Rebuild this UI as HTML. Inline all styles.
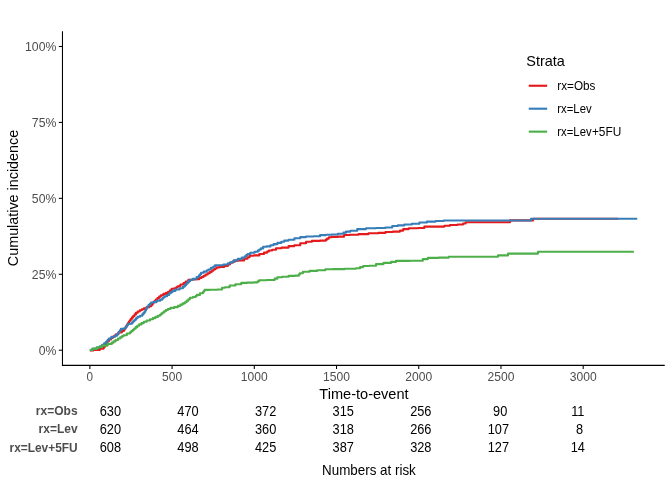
<!DOCTYPE html>
<html><head><meta charset="utf-8"><title>Cumulative incidence</title>
<style>
html,body{margin:0;padding:0;background:#fff;}
body{width:672px;height:480px;overflow:hidden;font-family:"Liberation Sans",sans-serif;}
svg{display:block;will-change:transform;}
text{font-family:"Liberation Sans",sans-serif;}
.tk{font-size:11.73px;fill:#4d4d4d;}
.ttl{font-size:14.67px;fill:#000;}
.lg{font-size:11.73px;fill:#000;}
.rl{font-size:11.73px;font-weight:bold;fill:#4d4d4d;}
.num{font-size:12.8px;fill:#000;}
.cap{font-size:13.33px;fill:#000;}
</style></head><body>
<svg width="672" height="480" viewBox="0 0 672 480">
<rect x="0" y="0" width="672" height="480" fill="#ffffff"/>
<polyline fill="none" stroke="#E41A1C" stroke-width="2.13" stroke-linejoin="round" stroke-linecap="butt" points="89.85,350.40 93.32,350.40 93.32,349.90 96.80,349.90 99.75,349.90 99.75,348.60 102.70,348.60 103.72,348.60 103.72,346.80 104.75,346.80 105.16,346.80 105.16,345.35 105.97,345.35 105.97,343.90 106.78,343.90 106.78,342.45 107.59,342.45 107.59,341.00 108.00,341.00 109.00,341.00 109.00,339.50 111.00,339.50 111.00,338.00 112.00,338.00 112.80,338.00 112.80,336.73 114.40,336.73 114.40,335.47 116.00,335.47 116.00,334.20 116.80,334.20 118.40,334.20 118.40,332.50 120.00,332.50 121.75,332.50 121.75,331.00 123.50,331.00 123.92,331.00 123.92,329.67 124.75,329.67 124.75,328.33 125.58,328.33 125.58,327.00 126.00,327.00 126.42,327.00 126.42,325.50 127.28,325.50 127.28,324.00 127.70,324.00 128.12,324.00 128.12,322.77 128.95,322.77 128.95,321.53 129.78,321.53 129.78,320.30 130.20,320.30 130.80,320.30 130.80,318.87 132.00,318.87 132.00,317.43 133.20,317.43 133.20,316.00 133.80,316.00 134.53,316.00 134.53,314.40 135.97,314.40 135.97,312.80 136.70,312.80 137.72,312.80 137.72,311.55 139.78,311.55 139.78,310.30 140.80,310.30 141.85,310.30 141.85,309.25 143.95,309.25 143.95,308.20 145.00,308.20 146.43,308.20 146.43,307.20 149.27,307.20 149.27,306.20 150.70,306.20 151.24,306.20 151.24,304.90 152.31,304.90 152.31,303.60 153.39,303.60 153.39,302.30 154.46,302.30 154.46,301.00 155.00,301.00 155.82,301.00 155.82,299.50 157.48,299.50 157.48,298.00 158.30,298.00 159.15,298.00 159.15,296.60 160.85,296.60 160.85,295.20 161.70,295.20 163.35,295.20 163.35,293.90 165.00,293.90 166.05,293.90 166.05,292.85 168.15,292.85 168.15,291.80 169.20,291.80 170.02,291.80 170.02,290.25 171.68,290.25 171.68,288.70 172.50,288.70 174.15,288.70 174.15,288.25 175.80,288.25 176.43,288.25 176.43,287.23 177.68,287.23 177.68,286.20 178.30,286.20 180.40,286.20 180.40,284.50 182.50,284.50 183.55,284.50 183.55,283.05 185.65,283.05 185.65,281.60 186.70,281.60 188.35,281.60 188.35,279.90 190.00,279.90 192.10,279.90 192.10,279.50 194.20,279.50 196.25,279.50 196.25,279.10 198.30,279.10 199.35,279.10 199.35,278.05 201.45,278.05 201.45,277.00 202.50,277.00 203.55,277.00 203.55,275.75 205.65,275.75 205.65,274.50 206.70,274.50 207.72,274.50 207.72,273.25 209.78,273.25 209.78,272.00 210.80,272.00 211.65,272.00 211.65,270.75 213.35,270.75 213.35,269.50 214.20,269.50 215.02,269.50 215.02,268.45 216.68,268.45 216.68,267.40 217.50,267.40 219.60,267.40 219.60,267.00 221.70,267.00 224.20,267.00 224.20,265.90 226.70,265.90 227.85,265.90 227.85,264.32 230.15,264.32 230.15,262.75 231.30,262.75 232.48,262.75 232.48,261.68 234.82,261.68 234.82,260.60 236.00,260.60 238.90,260.60 238.90,260.40 241.80,260.40 244.15,260.40 244.15,258.70 246.50,258.70 247.53,258.70 247.53,257.23 249.57,257.23 249.57,255.75 250.60,255.75 253.80,255.75 253.80,255.40 257.00,255.40 259.35,255.40 259.35,254.00 261.70,254.00 264.00,254.00 264.00,252.60 266.30,252.60 267.18,252.60 267.18,251.55 268.93,251.55 268.93,250.50 269.80,250.50 272.15,250.50 272.15,249.70 274.50,249.70 276.00,249.70 276.00,248.20 277.50,248.20 281.60,248.20 281.60,247.60 285.70,247.60 288.60,247.60 288.60,246.10 291.50,246.10 294.40,246.10 294.40,245.25 297.30,245.25 300.25,245.25 300.25,243.30 303.20,243.30 306.10,243.30 306.10,241.75 309.00,241.75 311.90,241.75 311.90,240.90 314.80,240.90 320.05,240.90 320.05,240.60 325.30,240.60 325.90,240.60 325.90,239.60 327.10,239.60 327.10,238.60 327.70,238.60 328.85,238.60 328.85,237.30 330.00,237.30 331.75,237.30 331.75,236.90 333.50,236.90 337.88,236.90 337.88,236.60 342.25,236.60 344.12,236.60 344.12,235.00 346.00,235.00 349.75,235.00 349.75,234.75 353.50,234.75 358.50,234.75 358.50,234.10 363.50,234.10 368.50,234.10 368.50,233.25 373.50,233.25 378.50,233.25 378.50,232.90 383.50,232.90 385.38,232.90 385.38,232.00 387.25,232.00 392.88,232.00 392.88,231.60 398.50,231.60 400.00,231.60 400.00,230.60 401.50,230.60 403.25,230.60 403.25,229.10 405.00,229.10 408.75,229.10 408.75,228.25 412.50,228.25 418.12,228.25 418.12,228.00 423.75,228.00 424.38,228.00 424.38,226.60 425.00,226.60 442.50,226.60 444.38,226.60 444.38,225.75 446.25,225.75 450.00,225.75 450.00,225.00 453.75,225.00 457.50,225.00 457.50,224.50 461.25,224.50 463.12,224.50 463.12,223.50 465.00,223.50 465.62,223.50 465.62,222.20 466.25,222.20 510.00,222.20 510.00,220.40 533.00,220.40 533.00,218.70 618.10,218.70"/>
<polyline fill="none" stroke="#377EB8" stroke-width="2.13" stroke-linejoin="round" stroke-linecap="butt" points="89.85,350.00 92.92,350.00 92.92,348.50 96.00,348.50 97.25,348.50 97.25,347.45 99.75,347.45 99.75,346.40 101.00,346.40 102.05,346.40 102.05,344.90 104.15,344.90 104.15,343.40 105.20,343.40 105.71,343.40 105.71,342.17 106.74,342.17 106.74,340.95 107.76,340.95 107.76,339.73 108.79,339.73 108.79,338.50 109.30,338.50 111.40,338.50 111.40,336.80 113.50,336.80 115.15,336.80 115.15,335.60 116.80,335.60 117.22,335.60 117.22,334.33 118.05,334.33 118.05,333.07 118.88,333.07 118.88,331.80 119.30,331.80 119.83,331.80 119.83,330.35 120.88,330.35 120.88,328.90 121.40,328.90 123.30,328.90 123.30,328.50 125.20,328.50 125.61,328.50 125.61,327.35 126.44,327.35 126.44,326.20 127.26,326.20 127.26,325.05 128.09,325.05 128.09,323.90 128.50,323.90 129.95,323.90 129.95,323.70 131.40,323.70 132.03,323.70 132.03,322.37 133.30,322.37 133.30,321.03 134.57,321.03 134.57,319.70 135.20,319.70 135.97,319.70 135.97,318.20 137.53,318.20 137.53,316.70 138.30,316.70 140.00,316.70 140.00,315.80 141.70,315.80 142.25,315.80 142.25,314.43 143.35,314.43 143.35,313.07 144.45,313.07 144.45,311.70 145.00,311.70 145.36,311.70 145.36,310.34 146.09,310.34 146.09,308.98 146.81,308.98 146.81,307.61 147.54,307.61 147.54,306.25 147.90,306.25 148.53,306.25 148.53,305.00 149.80,305.00 149.80,303.75 151.07,303.75 151.07,302.50 151.70,302.50 153.35,302.50 153.35,302.10 155.00,302.10 156.65,302.10 156.65,300.80 158.30,300.80 160.20,300.80 160.20,299.60 162.10,299.60 162.40,299.60 162.40,298.55 163.00,298.55 163.00,297.50 163.30,297.50 164.55,297.50 164.55,296.25 167.05,296.25 167.05,295.00 168.30,295.00 169.15,295.00 169.15,293.25 170.00,293.25 170.82,293.25 170.82,292.07 172.48,292.07 172.48,290.90 173.30,290.90 175.40,290.90 175.40,289.50 177.50,289.50 179.60,289.50 179.60,288.25 181.70,288.25 182.95,288.25 182.95,286.60 184.20,286.60 184.82,286.60 184.82,285.15 186.07,285.15 186.07,283.70 186.70,283.70 187.38,283.70 187.38,282.43 188.75,282.43 188.75,281.17 190.12,281.17 190.12,279.90 190.80,279.90 192.90,279.90 192.90,278.70 195.00,278.70 196.65,278.70 196.65,277.00 198.30,277.00 198.87,277.00 198.87,275.60 200.00,275.60 200.00,274.20 201.13,274.20 201.13,272.80 201.70,272.80 203.75,272.80 203.75,271.60 205.80,271.60 206.65,271.60 206.65,270.55 208.35,270.55 208.35,269.50 209.20,269.50 210.85,269.50 210.85,267.80 212.50,267.80 213.32,267.80 213.32,266.55 214.98,266.55 214.98,265.30 215.80,265.30 217.90,265.30 217.90,265.20 220.00,265.20 223.35,265.20 223.35,264.50 226.70,264.50 227.85,264.50 227.85,263.35 230.15,263.35 230.15,262.20 231.30,262.20 233.65,262.20 233.65,260.40 236.00,260.40 237.75,260.40 237.75,258.90 239.50,258.90 241.85,258.90 241.85,257.50 244.20,257.50 244.88,257.50 244.88,256.33 246.22,256.33 246.22,255.17 247.57,255.17 247.57,254.00 248.25,254.00 250.28,254.00 250.28,252.80 252.30,252.80 254.65,252.80 254.65,251.70 257.00,251.70 257.78,251.70 257.78,250.60 259.35,250.60 259.35,249.50 260.92,249.50 260.92,248.40 261.70,248.40 263.15,248.40 263.15,246.80 264.60,246.80 266.65,246.80 266.65,246.40 268.70,246.40 270.45,246.40 270.45,245.25 272.20,245.25 273.65,245.25 273.65,244.10 275.10,244.10 277.45,244.10 277.45,242.90 279.80,242.90 281.27,242.90 281.27,241.75 284.23,241.75 284.23,240.60 285.70,240.60 288.60,240.60 288.60,239.80 291.50,239.80 294.40,239.80 294.40,238.25 297.30,238.25 300.25,238.25 300.25,237.10 303.20,237.10 306.10,237.10 306.10,236.50 309.00,236.50 313.65,236.50 313.65,236.30 318.30,236.30 320.05,236.30 320.05,235.10 321.80,235.10 325.90,235.10 325.90,234.75 330.00,234.75 331.75,234.75 331.75,234.50 333.50,234.50 337.88,234.50 337.88,233.75 342.25,233.75 343.50,233.75 343.50,232.68 346.00,232.68 346.00,231.60 347.25,231.60 350.38,231.60 350.38,230.75 353.50,230.75 357.25,230.75 357.25,229.10 361.00,229.10 366.00,229.10 366.00,228.25 371.00,228.25 376.00,228.25 376.00,228.00 381.00,228.00 385.38,228.00 385.38,227.50 389.75,227.50 392.25,227.50 392.25,226.00 394.75,226.00 397.88,226.00 397.88,225.40 401.00,225.40 404.25,225.40 404.25,224.50 407.50,224.50 411.88,224.50 411.88,223.75 416.25,223.75 419.38,223.75 419.38,222.50 422.50,222.50 426.88,222.50 426.88,221.60 431.25,221.60 435.62,221.60 435.62,221.00 440.00,221.00 443.75,221.00 443.75,220.50 447.50,220.50 531.00,220.50 531.00,218.70 637.25,218.70"/>
<polyline fill="none" stroke="#4DAF4A" stroke-width="2.13" stroke-linejoin="round" stroke-linecap="butt" points="89.85,350.10 92.07,350.10 92.07,348.90 94.30,348.90 96.80,348.90 96.80,347.25 99.30,347.25 101.80,347.25 101.80,345.60 104.30,345.60 107.65,345.60 107.65,343.90 111.00,343.90 111.83,343.90 111.83,342.65 113.47,342.65 113.47,341.40 114.30,341.40 115.55,341.40 115.55,339.95 118.05,339.95 118.05,338.50 119.30,338.50 120.13,338.50 120.13,337.40 121.80,337.40 121.80,336.30 123.47,336.30 123.47,335.20 124.30,335.20 126.80,335.20 126.80,333.50 129.30,333.50 130.00,333.50 130.00,332.27 131.40,332.27 131.40,331.03 132.80,331.03 132.80,329.80 133.50,329.80 134.25,329.80 134.25,328.47 135.75,328.47 135.75,327.13 137.25,327.13 137.25,325.80 138.00,325.80 139.17,325.80 139.17,324.43 141.50,324.43 141.50,323.07 143.83,323.07 143.83,321.70 145.00,321.70 146.68,321.70 146.68,320.45 150.02,320.45 150.02,319.20 151.70,319.20 152.95,319.20 152.95,318.07 155.45,318.07 155.45,316.93 157.95,316.93 157.95,315.80 159.20,315.80 159.88,315.80 159.88,314.70 161.25,314.70 161.25,313.60 162.62,313.60 162.62,312.50 163.30,312.50 164.15,312.50 164.15,311.25 165.85,311.25 165.85,310.00 166.70,310.00 167.95,310.00 167.95,308.95 170.45,308.95 170.45,307.90 171.70,307.90 174.20,307.90 174.20,307.10 176.70,307.10 177.95,307.10 177.95,305.85 180.45,305.85 180.45,304.60 181.70,304.60 182.72,304.60 182.72,303.40 184.78,303.40 184.78,302.20 185.80,302.20 186.63,302.20 186.63,300.73 188.30,300.73 188.30,299.27 189.97,299.27 189.97,297.80 190.80,297.80 192.90,297.80 192.90,297.00 195.00,297.00 195.62,297.00 195.62,295.95 196.88,295.95 196.88,294.90 197.50,294.90 200.00,294.90 200.00,293.25 202.50,293.25 202.92,293.25 202.92,292.13 203.75,292.13 203.75,291.02 204.58,291.02 204.58,289.90 205.00,289.90 209.60,289.90 209.60,289.75 214.20,289.75 217.50,289.75 217.50,289.50 220.80,289.50 222.05,289.50 222.05,287.80 223.30,287.80 225.00,287.80 225.00,287.25 226.70,287.25 229.60,287.25 229.60,285.50 232.50,285.50 235.40,285.50 235.40,284.30 238.30,284.30 241.25,284.30 241.25,282.90 244.20,282.90 247.10,282.90 247.10,282.60 250.00,282.60 253.50,282.60 253.50,282.35 257.00,282.35 257.73,282.35 257.73,281.30 259.17,281.30 259.17,280.25 259.90,280.25 266.60,280.25 266.60,280.00 273.30,280.00 274.65,280.00 274.65,278.65 277.35,278.65 277.35,277.30 278.70,277.30 282.20,277.30 282.20,276.75 285.70,276.75 288.60,276.75 288.60,275.90 291.50,275.90 295.00,275.90 295.00,275.60 298.50,275.60 298.94,275.60 298.94,274.43 299.81,274.43 299.81,273.25 300.25,273.25 302.88,273.25 302.88,271.70 305.50,271.70 309.60,271.70 309.60,270.90 313.70,270.90 317.20,270.90 317.20,270.30 320.70,270.30 325.35,270.30 325.35,269.20 330.00,269.20 333.00,269.20 333.00,269.10 336.00,269.10 344.75,269.10 344.75,268.75 353.50,268.75 356.00,268.75 356.00,268.25 358.50,268.25 360.06,268.25 360.06,267.12 363.19,267.12 363.19,266.00 364.75,266.00 369.12,266.00 369.12,265.75 373.50,265.75 376.00,265.75 376.00,264.10 378.50,264.10 383.50,264.10 383.50,262.90 388.50,262.90 391.00,262.90 391.00,261.90 396.00,261.90 396.00,260.90 398.50,260.90 409.88,260.90 409.88,260.75 421.25,260.75 422.82,260.75 422.82,259.10 424.40,259.10 427.82,259.10 427.82,257.90 431.25,257.90 438.75,257.90 438.75,257.60 446.25,257.60 448.75,257.60 448.75,256.80 451.25,256.80 498.00,256.80 498.00,255.40 508.00,255.40 508.00,253.60 538.00,253.60 538.00,251.80 633.90,251.80"/>
<g stroke="#000" stroke-width="1.07" fill="none">
<line x1="62.47" y1="31.25" x2="62.47" y2="365.93"/>
<line x1="61.94" y1="365.4" x2="664.75" y2="365.4"/>
<line x1="58.8" y1="350.20" x2="62.47" y2="350.20"/>
<line x1="58.8" y1="274.27" x2="62.47" y2="274.27"/>
<line x1="58.8" y1="198.35" x2="62.47" y2="198.35"/>
<line x1="58.8" y1="122.43" x2="62.47" y2="122.43"/>
<line x1="58.8" y1="46.50" x2="62.47" y2="46.50"/>
<line x1="89.85" y1="365.4" x2="89.85" y2="369.0"/>
<line x1="172.07" y1="365.4" x2="172.07" y2="369.0"/>
<line x1="254.30" y1="365.4" x2="254.30" y2="369.0"/>
<line x1="336.52" y1="365.4" x2="336.52" y2="369.0"/>
<line x1="418.75" y1="365.4" x2="418.75" y2="369.0"/>
<line x1="500.98" y1="365.4" x2="500.98" y2="369.0"/>
<line x1="583.20" y1="365.4" x2="583.20" y2="369.0"/>
</g>
<text class="tk" transform="translate(56.40,354.55) scale(1,1.05)" text-anchor="end" textLength="17.72" lengthAdjust="spacingAndGlyphs">0%</text>
<text class="tk" transform="translate(56.40,278.62) scale(1,1.05)" text-anchor="end" textLength="24.54" lengthAdjust="spacingAndGlyphs">25%</text>
<text class="tk" transform="translate(56.40,202.70) scale(1,1.05)" text-anchor="end" textLength="24.54" lengthAdjust="spacingAndGlyphs">50%</text>
<text class="tk" transform="translate(56.40,126.78) scale(1,1.05)" text-anchor="end" textLength="24.54" lengthAdjust="spacingAndGlyphs">75%</text>
<text class="tk" transform="translate(56.40,50.85) scale(1,1.05)" text-anchor="end" textLength="31.35" lengthAdjust="spacingAndGlyphs">100%</text>
<text class="tk" transform="translate(89.85,380.90) scale(1,1.05)" text-anchor="middle">0</text>
<text class="tk" transform="translate(172.07,380.90) scale(1,1.05)" text-anchor="middle" textLength="20.15" lengthAdjust="spacingAndGlyphs">500</text>
<text class="tk" transform="translate(254.30,380.90) scale(1,1.05)" text-anchor="middle" textLength="26.86" lengthAdjust="spacingAndGlyphs">1000</text>
<text class="tk" transform="translate(336.52,380.90) scale(1,1.05)" text-anchor="middle" textLength="26.86" lengthAdjust="spacingAndGlyphs">1500</text>
<text class="tk" transform="translate(418.75,380.90) scale(1,1.05)" text-anchor="middle" textLength="26.86" lengthAdjust="spacingAndGlyphs">2000</text>
<text class="tk" transform="translate(500.98,380.90) scale(1,1.05)" text-anchor="middle" textLength="26.86" lengthAdjust="spacingAndGlyphs">2500</text>
<text class="tk" transform="translate(583.20,380.90) scale(1,1.05)" text-anchor="middle" textLength="26.86" lengthAdjust="spacingAndGlyphs">3000</text>
<text class="ttl" transform="translate(363.95,398.80) scale(1,1.05)" text-anchor="middle" textLength="89.3" lengthAdjust="spacingAndGlyphs">Time-to-event</text>
<text class="ttl" transform="translate(17.70,198.00) rotate(-90) scale(1,1.05)" text-anchor="middle" textLength="136.3" lengthAdjust="spacingAndGlyphs">Cumulative incidence</text>
<text class="ttl" transform="translate(526.30,65.90) scale(1,1.05)" textLength="38.6" lengthAdjust="spacingAndGlyphs">Strata</text>
<line x1="528.75" y1="85.75" x2="547.15" y2="85.75" stroke="#E41A1C" stroke-width="2.13"/>
<text class="lg" transform="translate(557.30,89.95) scale(1,1.05)">rx=Obs</text>
<line x1="528.75" y1="108.70" x2="547.15" y2="108.70" stroke="#377EB8" stroke-width="2.13"/>
<text class="lg" transform="translate(557.30,112.90) scale(1,1.05)" textLength="34.3" lengthAdjust="spacingAndGlyphs">rx=Lev</text>
<line x1="528.75" y1="131.65" x2="547.15" y2="131.65" stroke="#4DAF4A" stroke-width="2.13"/>
<text class="lg" transform="translate(557.30,135.85) scale(1,1.05)" textLength="34.3" lengthAdjust="spacingAndGlyphs">rx=Lev</text>
<text class="lg" transform="translate(591.90,135.85) scale(1,1.05)" textLength="29.4" lengthAdjust="spacingAndGlyphs">+5FU</text>
<text class="rl" transform="translate(77.60,415.10) scale(1,1.05)" text-anchor="end" textLength="41.8" lengthAdjust="spacingAndGlyphs">rx=Obs</text>
<text class="num" transform="translate(110.40,416.00) scale(1,1.12)" text-anchor="middle">630</text>
<text class="num" transform="translate(188.00,416.00) scale(1,1.12)" text-anchor="middle">470</text>
<text class="num" transform="translate(265.60,416.00) scale(1,1.12)" text-anchor="middle">372</text>
<text class="num" transform="translate(343.20,416.00) scale(1,1.12)" text-anchor="middle">315</text>
<text class="num" transform="translate(420.80,416.00) scale(1,1.12)" text-anchor="middle">256</text>
<text class="num" transform="translate(500.18,416.00) scale(1,1.12)" text-anchor="middle">90</text>
<text class="num" transform="translate(577.78,416.00) scale(1,1.12)" text-anchor="middle">11</text>
<text class="rl" transform="translate(77.60,433.40) scale(1,1.05)" text-anchor="end" textLength="39.0" lengthAdjust="spacingAndGlyphs">rx=Lev</text>
<text class="num" transform="translate(110.40,434.00) scale(1,1.12)" text-anchor="middle">620</text>
<text class="num" transform="translate(188.00,434.00) scale(1,1.12)" text-anchor="middle">464</text>
<text class="num" transform="translate(265.60,434.00) scale(1,1.12)" text-anchor="middle">360</text>
<text class="num" transform="translate(343.20,434.00) scale(1,1.12)" text-anchor="middle">318</text>
<text class="num" transform="translate(420.80,434.00) scale(1,1.12)" text-anchor="middle">266</text>
<text class="num" transform="translate(498.40,434.00) scale(1,1.12)" text-anchor="middle">107</text>
<text class="num" transform="translate(579.56,434.00) scale(1,1.12)" text-anchor="middle">8</text>
<text class="rl" transform="translate(77.60,451.70) scale(1,1.05)" text-anchor="end" textLength="68.1" lengthAdjust="spacingAndGlyphs">rx=Lev+5FU</text>
<text class="num" transform="translate(110.40,452.00) scale(1,1.12)" text-anchor="middle">608</text>
<text class="num" transform="translate(188.00,452.00) scale(1,1.12)" text-anchor="middle">498</text>
<text class="num" transform="translate(265.60,452.00) scale(1,1.12)" text-anchor="middle">425</text>
<text class="num" transform="translate(343.20,452.00) scale(1,1.12)" text-anchor="middle">387</text>
<text class="num" transform="translate(420.80,452.00) scale(1,1.12)" text-anchor="middle">328</text>
<text class="num" transform="translate(498.40,452.00) scale(1,1.12)" text-anchor="middle">127</text>
<text class="num" transform="translate(577.78,452.00) scale(1,1.12)" text-anchor="middle">14</text>
<text class="cap" transform="translate(368.90,474.80) scale(1,1.05)" text-anchor="middle" textLength="93.8" lengthAdjust="spacingAndGlyphs">Numbers at risk</text>
</svg>
</body></html>
